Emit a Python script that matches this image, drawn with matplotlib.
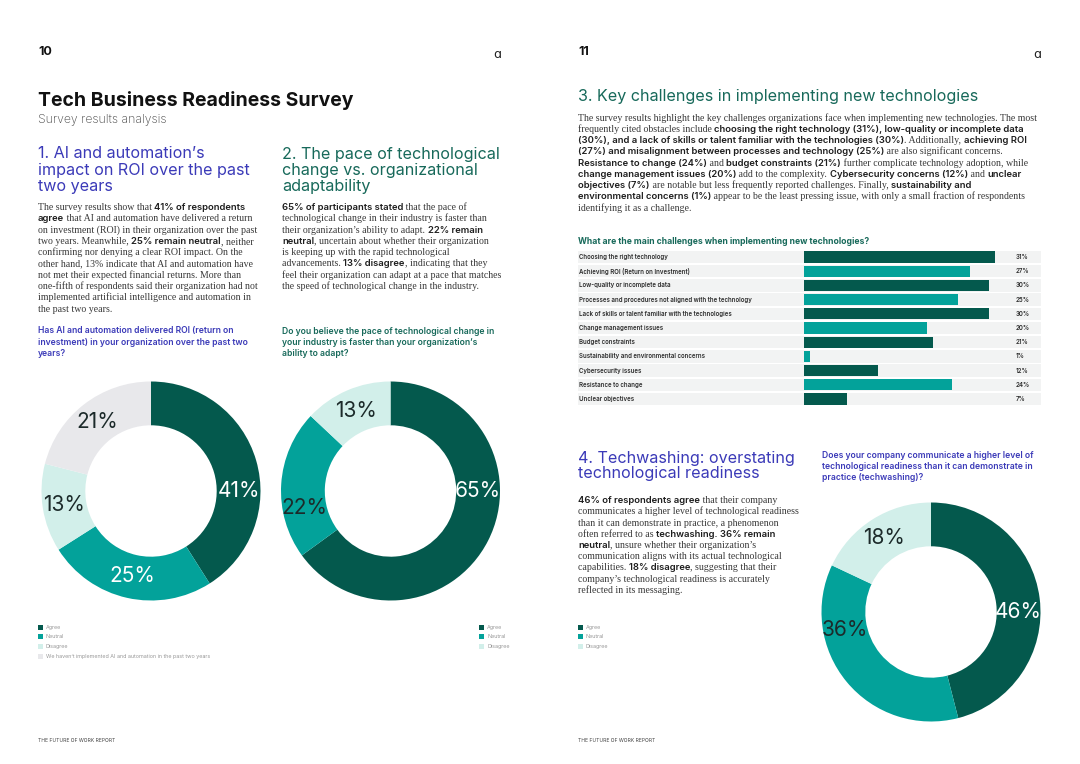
import matplotlib.pyplot as plt
from matplotlib.patches import Rectangle
import numpy as np

W, H = 1080, 764

DARK = "#04594d"
TEAL = "#03a29a"
MINT = "#d2efea"
GRAY = "#e8e8eb"
PURPLE = "#3b3ab8"
GREEN = "#17695a"
BODY = "#383838"
SANS = ["Inter", "DejaVu Sans"]
SERIF = ["Liberation Serif", "DejaVu Serif"]

# --- data -------------------------------------------------------------
roi_labels = ["Agree", "Neutral", "Disagree",
              "We haven\u2019t implemented AI and automation in the past two years"]
roi_values = [41, 25, 13, 21]

pace_labels = ["Agree", "Neutral", "Disagree"]
pace_values = [65, 22, 13]

wash_labels = ["Agree", "Neutral", "Disagree"]
wash_values = [46, 36, 18]

challenge_labels = [
    "Choosing the right technology",
    "Achieving ROI (Return on Investment)",
    "Low-quality or incomplete data",
    "Processes and procedures not aligned with the technology",
    "Lack of skills or talent familiar with the technologies",
    "Change management issues",
    "Budget constraints",
    "Sustainability and environmental concerns",
    "Cybersecurity issues",
    "Resistance to change",
    "Unclear objectives",
]
challenge_values = [31, 27, 30, 25, 30, 20, 21, 1, 12, 24, 7]

fig = plt.figure(figsize=(W / 100, H / 100), dpi=100)
fig.patch.set_facecolor("white")
renderer = fig.canvas.get_renderer()


def fx(x):
    return x / W


def fy(y):
    return 1 - y / H


def put(x, y, s, **kw):
    kw.setdefault("va", "center")
    kw.setdefault("ha", "left")
    return fig.text(fx(x), fy(y), s, **kw)


_width_cache = {}


def text_width(s, size, family, weight):
    key = (s, size, tuple(family), weight)
    if key not in _width_cache:
        t1 = fig.text(0, 0, "|" + s + "|", size=size, family=family, weight=weight)
        t2 = fig.text(0, 0, "||", size=size, family=family, weight=weight)
        w = t1.get_window_extent(renderer).width - t2.get_window_extent(renderer).width
        t1.remove()
        t2.remove()
        _width_cache[key] = w
    return _width_cache[key]


def rich_paragraph(x, y0, lines, step=11.3):
    # each line is a string (serif) or a list of (text, is_bold) runs
    for i, line in enumerate(lines):
        if isinstance(line, str):
            line = [(line, False)]
        cx = x
        base = y0 + i * step + 3
        for s, bold in line:
            if bold:
                style = dict(size=6.8, family=SANS, weight="semibold", color="#1e1e1e")
            else:
                style = dict(size=7.15, family=SERIF, weight="normal", color=BODY)
            fig.text(fx(cx), fy(base), s, va="baseline", ha="left", **style)
            cx += text_width(s, style["size"], style["family"], style["weight"])


def lines_text(x, y0, lines, step, **kw):
    for i, s in enumerate(lines):
        put(x, y0 + i * step, s, **kw)


def legend(x, y0, labels, colors, step=9.7):
    for i, (lab, col) in enumerate(zip(labels, colors)):
        y = y0 + i * step
        fig.add_artist(Rectangle((fx(x), fy(y + 2.5)), 5 / W, 5 / H,
                                 transform=fig.transFigure, color=col, lw=0))
        put(x + 8, y, lab, size=3.9, family=SANS, color="#999999")


def donut(cx, cy, r, values, colors, text_colors, label_angles):
    ax = fig.add_axes([fx(cx - r), fy(cy + r), 2 * r / W, 2 * r / H])
    ax.pie(values, colors=colors, startangle=90, counterclock=False, radius=1,
           wedgeprops=dict(width=0.4, linewidth=0))
    ax.set_xlim(-1, 1)
    ax.set_ylim(-1, 1)
    ax.axis("off")
    total = float(sum(values))
    start = 90.0
    for v, tc, ang in zip(values, text_colors, label_angles):
        span = v / total * 360
        a = start - span / 2 if ang is None else ang
        ax.text(0.8 * np.cos(np.radians(a)), 0.8 * np.sin(np.radians(a)), f"{v}%",
                ha="center", va="center", size=15, family=SANS, weight="normal",
                color=tc)
        start -= span
    return ax


# --- page headers -----------------------------------------------------
put(38, 52, "10", size=9, family=SANS, weight="bold", color="#111")
put(578, 52, "11", size=9, family=SANS, weight="bold", color="#111")
put(497, 54, "\u0251", size=9, family=["DejaVu Sans"], color="#222", ha="center")
put(1037, 54, "\u0251", size=9, family=["DejaVu Sans"], color="#222", ha="center")

put(38, 100, "Tech Business Readiness Survey", size=14, family=SANS,
    weight="bold", color="#111")
put(38, 120, "Survey results analysis", size=8.8, family=SANS, weight="light",
    color="#444")

# --- section 1 ---------------------------------------------------------
lines_text(38, 154, ["1. AI and automation\u2019s", "impact on ROI over the past", "two years"],
           16, size=11.6, family=SANS, weight="normal", color=PURPLE)
rich_paragraph(38, 207, [
    [("The survey results show that ", False), ("41% of respondents", True)],
    [("agree", True), (" that AI and automation have delivered a return", False)],
    "on investment (ROI) in their organization over the past",
    [("two years. Meanwhile, ", False), ("25% remain neutral", True), (", neither", False)],
    "confirming nor denying a clear ROI impact. On the",
    "other hand, 13% indicate that AI and automation have",
    "not met their expected financial returns. More than",
    "one-fifth of respondents said their organization had not",
    "implemented artificial intelligence and automation in",
    "the past two years.",
])
lines_text(38, 331, ["Has AI and automation delivered ROI (return on",
                     "investment) in your organization over the past two",
                     "years?"], 11.3, size=6.2, family=SANS, weight="semibold",
           color=PURPLE)
donut(151, 491, 109.5, roi_values, [DARK, TEAL, MINT, GRAY],
      ["white", "white", "#1c2a2a", "#1c2a2a"], [0, None, None, None])
legend(38, 627, roi_labels, [DARK, TEAL, MINT, GRAY])

# --- section 2 ---------------------------------------------------------
lines_text(282, 154, ["2. The pace of technological", "change vs. organizational",
                      "adaptability"], 16, size=11.6, family=SANS, weight="normal",
           color=GREEN)
rich_paragraph(282, 207, [
    [("65% of participants stated", True), (" that the pace of", False)],
    "technological change in their industry is faster than",
    [("their organization\u2019s ability to adapt. ", False), ("22% remain", True)],
    [("neutral", True), (", uncertain about whether their organization", False)],
    "is keeping up with the rapid technological",
    [("advancements. ", False), ("13% disagree", True), (", indicating that they", False)],
    "feel their organization can adapt at a pace that matches",
    "the speed of technological change in the industry.",
])
lines_text(282, 331, ["Do you believe the pace of technological change in",
                      "your industry is faster than your organization\u2019s",
                      "ability to adapt?"], 11.3, size=6.2, family=SANS,
           weight="semibold", color=GREEN)
donut(390.5, 491, 109.5, pace_values, [DARK, TEAL, MINT],
      ["white", "#1c2a2a", "#1c2a2a"], [0, 191, None])
legend(479, 627, pace_labels, [DARK, TEAL, MINT])

# --- section 3 ---------------------------------------------------------
put(578, 97, "3. Key challenges in implementing new technologies", size=11.6,
    family=SANS, weight="normal", color=GREEN)
rich_paragraph(578, 117.7, [
    "The survey results highlight the key challenges organizations face when implementing new technologies. The most",
    [("frequently cited obstacles include ", False),
     ("choosing the right technology (31%), low-quality or incomplete data", True)],
    [("(30%), and a lack of skills or talent familiar with the technologies (30%)", True),
     (". Additionally, ", False), ("achieving ROI", True)],
    [("(27%) and misalignment between processes and technology (25%)", True),
     (" are also significant concerns.", False)],
    [("Resistance to change (24%)", True), (" and ", False), ("budget constraints (21%)", True),
     (" further complicate technology adoption, while", False)],
    [("change management issues (20%)", True), (" add to the complexity. ", False),
     ("Cybersecurity concerns (12%)", True), (" and ", False), ("unclear", True)],
    [("objectives (7%)", True),
     (" are notable but less frequently reported challenges. Finally, ", False),
     ("sustainability and", True)],
    [("environmental concerns (1%)", True),
     (" appear to be the least pressing issue, with only a small fraction of respondents", False)],
    "identifying it as a challenge.",
], step=11.25)

put(578, 241.5, "What are the main challenges when implementing new technologies?",
    size=6.2, family=SANS, weight="bold", color=GREEN)

px_per_pct = 6.16
bar_left_px, bar_zero_px, bar_right_px = 578, 804, 1041
row_h = 14.2
top_px = 257 - row_h / 2
n = len(challenge_values)
axb = fig.add_axes([fx(bar_left_px), fy(top_px + n * row_h),
                    (bar_right_px - bar_left_px) / W, n * row_h / H])
xmin = -(bar_zero_px - bar_left_px) / px_per_pct
xmax = (bar_right_px - bar_zero_px) / px_per_pct
ypos = np.arange(n)
axb.barh(ypos, [xmax - xmin] * n, left=xmin, height=0.88, color="#f2f3f3", lw=0)
bar_colors = [DARK if i % 2 == 0 else TEAL for i in range(n)]
axb.barh(ypos, challenge_values, height=0.78, color=bar_colors, lw=0)
for i, (lab, v) in enumerate(zip(challenge_labels, challenge_values)):
    axb.text(xmin + 0.1, i, lab, ha="left", va="center", size=4.4, family=SANS,
             weight="semibold", color="#2a2a2a")
    axb.text(34.4, i, f"{v}%", ha="left", va="center", size=4.4, family=SANS,
             weight="semibold", color="#2a2a2a")
axb.set_xlim(xmin, xmax)
axb.set_ylim(n - 0.5, -0.5)
axb.axis("off")

# --- section 4 ---------------------------------------------------------
lines_text(578, 458, ["4. Techwashing: overstating", "technological readiness"], 16,
           size=11.6, family=SANS, weight="normal", color=PURPLE)
rich_paragraph(578, 500, [
    [("46% of respondents agree", True), (" that their company", False)],
    "communicates a higher level of technological readiness",
    "than it can demonstrate in practice, a phenomenon",
    [("often referred to as ", False), ("techwashing. 36% remain", True)],
    [("neutral", True), (", unsure whether their organization\u2019s", False)],
    "communication aligns with its actual technological",
    [("capabilities. ", False), ("18% disagree", True), (", suggesting that their", False)],
    "company\u2019s technological readiness is accurately",
    "reflected in its messaging.",
], step=11.25)
lines_text(822, 455, ["Does your company communicate a higher level of",
                      "technological readiness than it can demonstrate in",
                      "practice (techwashing)?"], 11.3, size=6.2, family=SANS,
           weight="semibold", color=PURPLE)
donut(931, 612, 109.5, wash_values, [DARK, TEAL, MINT],
      ["white", "#1c2a2a", "#1c2a2a"], [0, 192, None])
legend(578, 627, wash_labels, [DARK, TEAL, MINT])

# --- footers -----------------------------------------------------------
put(38, 741, "THE FUTURE OF WORK REPORT", size=3.6, family=SANS, color="#444")
put(578, 741, "THE FUTURE OF WORK REPORT", size=3.6, family=SANS, color="#444")

fig.savefig("out.png", dpi=100, facecolor="white")
